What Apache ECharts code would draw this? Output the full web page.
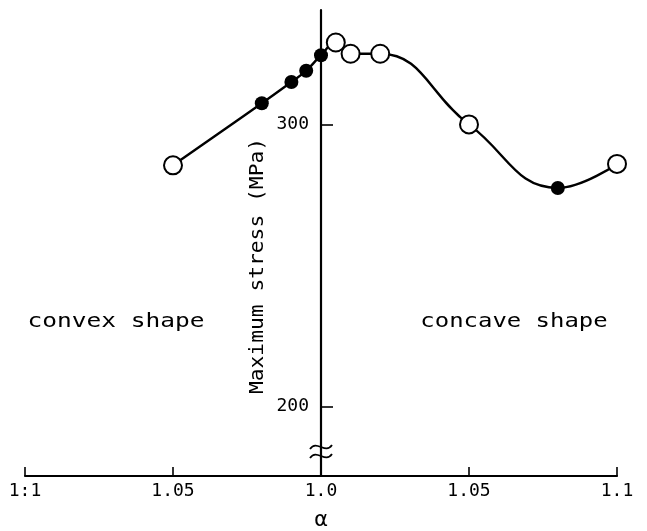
<!DOCTYPE html>
<html>
<head>
<meta charset="utf-8">
<script src="https://cdn.jsdelivr.net/npm/echarts@6/dist/echarts.min.js"></script>
<style>
  html, body { margin: 0; padding: 0; background: #fff; }
  #chart { width: 647px; height: 531px; }
</style>
</head>
<body>
<div id="chart"></div>
<script>
// Horizontal position: signed distance from alpha = 1.0
// (negative side = convex shape, positive side = concave shape)
const alphaOffset = [-0.05, -0.02, -0.01, -0.005, 0, 0.005, 0.01, 0.02, 0.05, 0.08, 0.1];
// Maximum stress (MPa)
const maxStress = [285.5, 307.5, 315, 319, 324.5, 329, 325, 325, 300, 277.5, 286];
// 1 = solid marker, 0 = open marker
const solidMarker = [0, 1, 1, 1, 1, 0, 0, 0, 0, 1, 0];

// Tick labels for the alpha axis, left to right
const xTickValues = [-0.1, -0.05, 0, 0.05, 0.1];
const xTickLabels = ['1:1', '1.05', '1.0', '1.05', '1.1'];
// Stress axis ticks
const yTickValues = [200, 300];

const FONT = '"DejaVu Sans Mono", monospace';
const GRID_LEFT = 25;
const GRID_RIGHT = 30;
const Y_MIN = 175.5;
const Y_MAX = 340.5;

const chart = echarts.init(document.getElementById('chart'));

const seriesData = alphaOffset.map((x, i) => {
  const solid = solidMarker[i] === 1;
  return {
    value: [x, maxStress[i]],
    symbolSize: solid ? 14 : 18,
    itemStyle: {
      color: solid ? '#000' : '#fff',
      borderColor: '#000',
      borderWidth: solid ? 0 : 2
    }
  };
});

function xLabel(v) {
  const idx = xTickValues.findIndex(t => Math.abs(t - v) < 1e-6);
  return idx >= 0 ? xTickLabels[idx] : '';
}

// The stress axis sits at alpha = 1.0, i.e. the middle of the alpha axis
const plotWidth = 647 - GRID_LEFT - GRID_RIGHT;
const yAxisShift = plotWidth / 2;

chart.setOption({
  animation: false,
  backgroundColor: '#fff',
  grid: { left: GRID_LEFT, right: GRID_RIGHT, top: 10, bottom: 55, outerBoundsMode: 'none' },
  xAxis: {
    type: 'value',
    min: -0.1,
    max: 0.1,
    interval: 0.05,
    name: 'α',
    nameLocation: 'middle',
    nameGap: 33,
    nameTextStyle: { color: '#000', fontFamily: FONT, fontSize: 22 },
    splitLine: { show: false },
    axisLine: { onZero: false, lineStyle: { color: '#000', width: 2.2 } },
    axisTick: { inside: true, length: 9, lineStyle: { color: '#000', width: 1.6 } },
    axisLabel: {
      color: '#000', fontFamily: FONT, fontSize: 18, margin: 6,
      formatter: xLabel
    }
  },
  yAxis: {
    type: 'value',
    min: Y_MIN,
    max: Y_MAX,
    offset: -yAxisShift,
    splitLine: { show: false },
    axisLine: { onZero: false, lineStyle: { color: '#000', width: 2.2 } },
    axisTick: {
      inside: true, length: 12, customValues: yTickValues,
      lineStyle: { color: '#000', width: 1.6 }
    },
    axisLabel: {
      color: '#000', fontFamily: FONT, fontSize: 18, margin: 12,
      customValues: yTickValues
    }
  },
  series: [{
    type: 'line',
    data: seriesData,
    smooth: 0.45,
    symbol: 'circle',
    lineStyle: { color: '#000', width: 2.4 },
    z: 3
  }]
});

// Annotations placed relative to the axes
const origin = chart.convertToPixel({ gridIndex: 0 }, [0, Y_MIN]);
const axisX = origin[0];

function breakWave(yc) {
  return {
    type: 'bezierCurve',
    shape: {
      x1: axisX - 11, y1: yc + 2,
      cpx1: axisX - 4, cpy1: yc - 8,
      cpx2: axisX + 4, cpy2: yc + 8,
      x2: axisX + 11, y2: yc - 2
    },
    style: { stroke: '#000', lineWidth: 1.8, fill: null },
    z: 10
  };
}

chart.setOption({
  graphic: [
    {
      type: 'text',
      x: 116, y: 322,
      scaleX: 1.29,
      style: {
        text: 'convex shape', fill: '#000', font: '19px ' + FONT,
        align: 'center', verticalAlign: 'middle'
      }
    },
    {
      type: 'text',
      x: 514, y: 322,
      scaleX: 1.26,
      style: {
        text: 'concave shape', fill: '#000', font: '19px ' + FONT,
        align: 'center', verticalAlign: 'middle'
      }
    },
    {
      type: 'text',
      x: 258, y: 266,
      rotation: Math.PI / 2,
      scaleX: 1.12,
      style: {
        text: 'Maximum stress (MPa)', fill: '#000', font: '19px ' + FONT,
        align: 'center', verticalAlign: 'middle'
      }
    },
    // axis break mark on the stress axis
    breakWave(447),
    breakWave(456)
  ]
});
</script>
</body>
</html>
